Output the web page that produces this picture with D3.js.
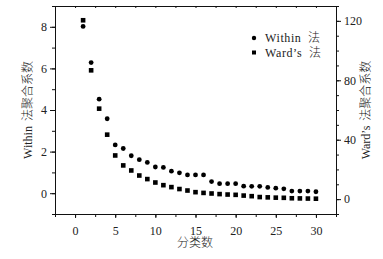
<!DOCTYPE html>
<html>
<head>
<meta charset="utf-8">
<script src="https://cdn.jsdelivr.net/npm/d3@7"></script>
<style>
  body { margin: 0; background: #fff; }
  svg text { font-family: "Liberation Serif", "Noto Sans CJK SC", serif; fill: #222; font-weight: 300; }
</style>
</head>
<body>
<svg id="chart" width="383" height="259"></svg>
<script>
// 分类数
const clusters = [1, 2, 3, 4, 5, 6, 7, 8, 9, 10, 11, 12, 13, 14, 15, 16, 17, 18, 19, 20, 21, 22, 23, 24, 25, 26, 27, 28, 29, 30];
// Within 法聚合系数 (left axis)
const withinVals = [8.02, 6.28, 4.52, 3.58, 2.32, 2.15, 1.80, 1.61, 1.48, 1.26, 1.24, 1.06, 0.98, 0.88, 0.88, 0.88, 0.56, 0.46, 0.46, 0.46, 0.34, 0.33, 0.33, 0.28, 0.24, 0.21, 0.10, 0.10, 0.10, 0.07];
// Ward's 法聚合系数 (right axis)
const wardVals = [120.4, 86.7, 60.9, 43.4, 29.4, 22.7, 19.3, 15.9, 13.5, 11.2, 9.4, 8.1, 6.8, 5.8, 4.7, 4.2, 3.8, 3.4, 3.1, 2.9, 2.4, 2.0, 1.4, 1.2, 1.0, 0.9, 0.6, 0.5, 0.4, 0.3];

const xTicks = [0, 5, 10, 15, 20, 25, 30];
const leftTicks = [0, 2, 4, 6, 8];
const rightTicks = [0, 40, 80, 120];
const seriesNames = ["Within 法", "Ward\u2019s 法"];

const plotLeft = 55, plotRight = 336, plotTop = 6, plotBottom = 214;

let svg = d3.select("#chart");

let x = d3.scaleLinear().domain([-2.5, 32.5]).range([plotLeft, plotRight]);
let yL = d3.scaleLinear().domain([-1, 9]).range([plotBottom, plotTop]);
let yR = d3.scaleLinear().domain([-10, 130]).range([plotBottom, plotTop]);

function styleAxis(g) {
  g.selectAll("path, line").attr("stroke", "#111").attr("stroke-width", 1);
  g.selectAll("text").style("font-size", "12px");
}

// bottom axis
svg.append("g")
  .attr("transform", `translate(0, ${plotBottom})`)
  .call(d3.axisBottom(x).tickValues(d3.range(-2.5, 32.6, 2.5)).tickSize(3).tickSizeOuter(0).tickFormat(""))
  .call(styleAxis);
svg.append("g")
  .attr("transform", `translate(0, ${plotBottom})`)
  .call(d3.axisBottom(x).tickValues(xTicks).tickSize(4).tickPadding(8))
  .call(styleAxis)
  .call((g) => g.select(".domain").remove());

// top axis
svg.append("g")
  .attr("transform", `translate(0, ${plotTop})`)
  .call(d3.axisBottom(x).tickValues(d3.range(-2.5, 32.6, 2.5)).tickSize(2).tickSizeOuter(0).tickFormat(""))
  .call(styleAxis);

// left axis
svg.append("g")
  .attr("transform", `translate(${plotLeft}, 0)`)
  .call(d3.axisLeft(yL).tickValues(d3.range(-1, 9.1, 1)).tickSize(3).tickSizeOuter(0).tickFormat(""))
  .call(styleAxis);
svg.append("g")
  .attr("transform", `translate(${plotLeft}, 0)`)
  .call(d3.axisLeft(yL).tickValues(leftTicks).tickSize(5).tickPadding(3))
  .call(styleAxis)
  .call((g) => g.select(".domain").remove());

// right axis
svg.append("g")
  .attr("transform", `translate(${plotRight}, 0)`)
  .call(d3.axisRight(yR).tickValues(d3.range(-10, 131, 10)).tickSize(3).tickSizeOuter(0).tickFormat(""))
  .call(styleAxis);
svg.append("g")
  .attr("transform", `translate(${plotRight}, 0)`)
  .call(d3.axisRight(yR).tickValues(rightTicks).tickSize(5).tickPadding(3))
  .call(styleAxis)
  .call((g) => g.select(".domain").remove());

// points
svg.append("g")
  .selectAll("circle")
  .data(clusters)
  .join("circle")
  .attr("cx", (d) => x(d))
  .attr("cy", (d, i) => yL(withinVals[i]))
  .attr("r", 2.4)
  .attr("fill", "#000");

let sq = 4.6;
svg.append("g")
  .selectAll("rect")
  .data(clusters)
  .join("rect")
  .attr("x", (d) => x(d) - sq / 2)
  .attr("y", (d, i) => yR(wardVals[i]) - sq / 2)
  .attr("width", sq)
  .attr("height", sq)
  .attr("fill", "#000");

// legend
let legend = svg.append("g").attr("transform", "translate(254, 38)");
legend.append("circle").attr("cx", 0).attr("cy", 0).attr("r", 2.2).attr("fill", "#000");
legend.append("rect").attr("x", -2).attr("y", 14.5 - 2).attr("width", 4).attr("height", 4).attr("fill", "#000");
legend.selectAll("text")
  .data(seriesNames)
  .join("text")
  .attr("x", 11)
  .attr("y", (d, i) => i * 14.5 + 4)
  .style("font-size", "12px")
  .style("letter-spacing", "0.6px")
  .style("word-spacing", "3px")
  .text((d) => d);

// axis titles
svg.append("text")
  .attr("transform", "translate(195, 247)")
  .style("text-anchor", "middle")
  .style("font-size", "12px")
  .text("分类数");

svg.append("text")
  .attr("transform", `translate(32, ${(plotTop + plotBottom) / 2}) rotate(-90)`)
  .style("text-anchor", "middle")
  .style("font-size", "12px")
  .style("word-spacing", "2px")
  .text("Within 法聚合系数");

svg.append("text")
  .attr("transform", `translate(370, ${(plotTop + plotBottom) / 2}) rotate(-90)`)
  .style("text-anchor", "middle")
  .style("font-size", "12px")
  .style("word-spacing", "2px")
  .text("Ward\u2019s 法聚合系数");
</script>
</body>
</html>
